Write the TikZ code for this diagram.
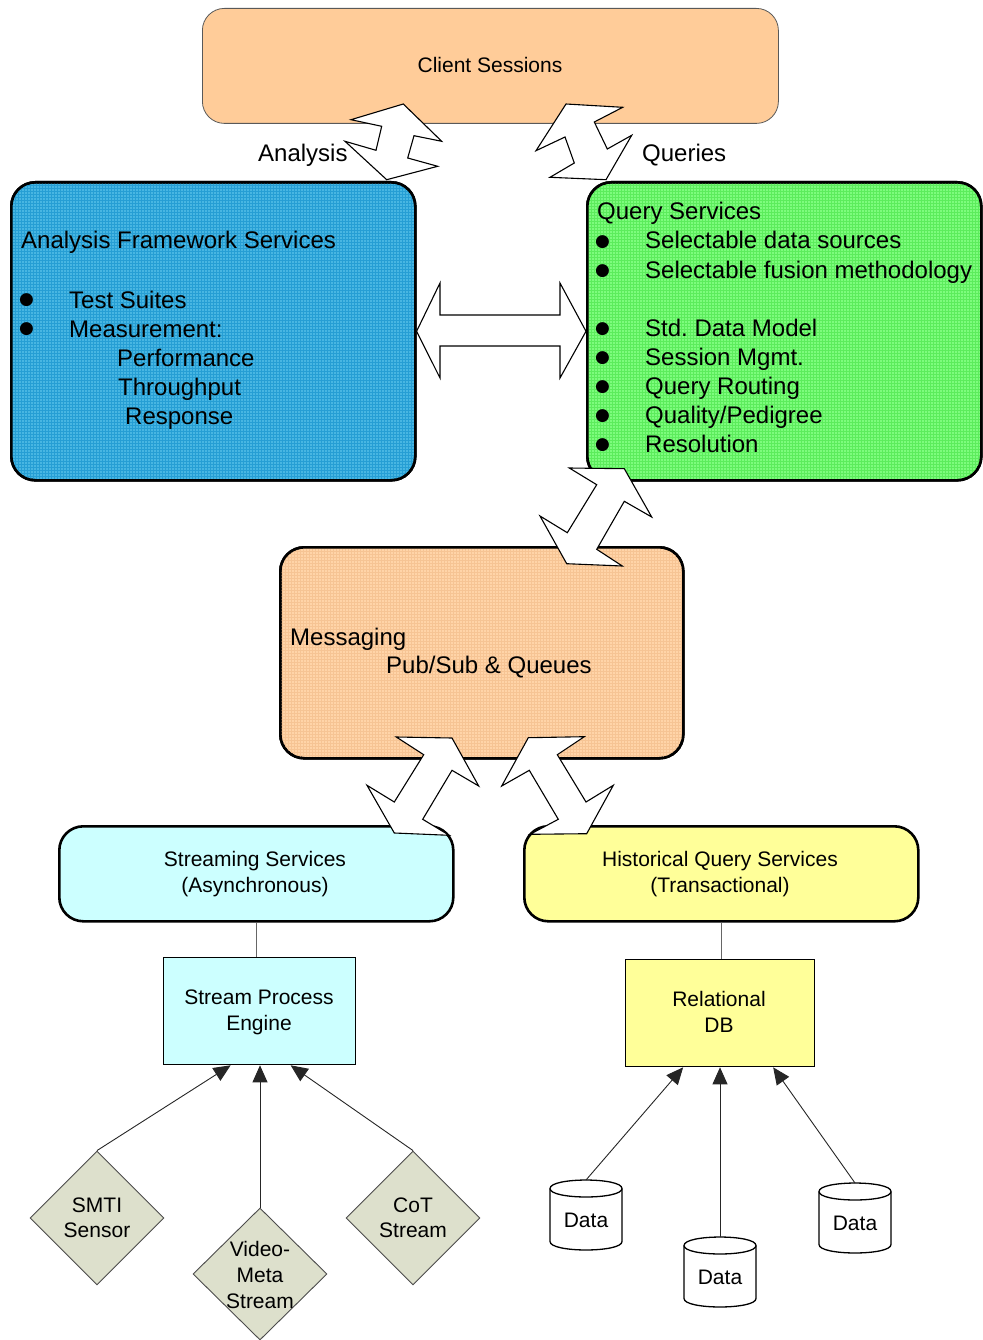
\documentclass[tikz,border=0pt]{standalone}
\usepackage{fontspec}
\setmainfont{Liberation Sans}
\newfontfamily\symfont{DejaVu Sans}
\usetikzlibrary{shapes.geometric,arrows.meta,patterns}

\definecolor{peach}{RGB}{255,204,153}
\definecolor{peachbase}{RGB}{255,212,168}
\definecolor{peachgrid}{RGB}{246,196,148}
\definecolor{afsbase}{RGB}{72,182,226}
\definecolor{afsgrid}{RGB}{38,158,212}
\definecolor{qsbase}{RGB}{125,252,125}
\definecolor{qsgrid}{RGB}{92,236,92}
\definecolor{cyanfill}{RGB}{204,255,255}
\definecolor{yellowfill}{RGB}{255,255,153}
\definecolor{sensorfill}{RGB}{221,224,204}

% storage drum: #1 name, #2 centre x, #3 top y
\newcommand\datadrum[3]{%
  \draw[drum] (#2-36,#3+8.5) -- (#2-36,#3+61.5)
     .. controls (#2-36,#3+72.8) and (#2+36,#3+72.8) .. (#2+36,#3+61.5)
     -- (#2+36,#3+8.5)
     .. controls (#2+36,#3-2.8) and (#2-36,#3-2.8) .. (#2-36,#3+8.5) -- cycle;
  \draw[drum,fill=none] (#2-36,#3+8.5)
     .. controls (#2-36,#3+19.8) and (#2+36,#3+19.8) .. (#2+36,#3+8.5);
  \coordinate (#1top) at (#2,#3);
  \node[small,inner sep=0pt] (#1) at (#2,#3+40) {Data};
}

\begin{document}
\begin{tikzpicture}[x=1pt,y=-1pt,
  big/.style={font=\fontsize{24}{29}\selectfont},
  small/.style={font=\fontsize{21}{26}\selectfont},
  dot/.style={font=\symfont\fontsize{17}{17}\selectfont,inner sep=0pt,anchor=center},
  txt/.style={inner sep=0pt,anchor=base west},
  ctxt/.style={inner sep=0pt,anchor=base},
  svcbox/.style={draw=black,line width=2.6pt,rounded corners=24pt,inner sep=0pt,anchor=north west},
  gridded/.style={fill=#1base,postaction={pattern=grid,pattern color=#1grid},
                  postaction={draw=black,line width=2.6pt}},
  engbox/.style={draw=black,line width=1.3pt,inner sep=0pt,anchor=north west},
  sensor/.style={diamond,draw=black!70,line width=0.9pt,fill=sensorfill,inner sep=0pt,
                 minimum width=134pt,minimum height=134pt},
  drum/.style={draw=black,line width=1.3pt,fill=white},
  blockarrow/.style={draw=black,line width=1.1pt,fill=white,line join=miter},
  link/.style={draw=black!60,line width=1pt},
  feed/.style={draw=black!85,line width=0.9pt,-{Triangle[length=17pt,width=15pt]}},
]
\useasboundingbox (0,0) rectangle (982,1340);

% ---- service boxes ----
\node[svcbox,fill=peach,draw=black!65,line width=0.8pt,rounded corners=22pt,
      minimum width=576pt,minimum height=115pt] (client) at (202,8) {};
\node[svcbox,gridded=afs,minimum width=404pt,minimum height=298pt] (afs) at (10,181) {};
\node[svcbox,gridded=qs,minimum width=394pt,minimum height=298pt] (qs) at (586,181) {};
\node[svcbox,gridded=peach,minimum width=403pt,minimum height=211pt] (msg) at (279,546) {};
\node[svcbox,fill=cyanfill,minimum width=394pt,minimum height=95pt] (stream) at (58,825) {};
\node[svcbox,fill=yellowfill,minimum width=394pt,minimum height=95pt] (hist) at (523,825) {};
\node[engbox,fill=cyanfill,minimum width=192pt,minimum height=107pt] (engine) at (163,957) {};
\node[engbox,fill=yellowfill,minimum width=189pt,minimum height=107pt] (rdb) at (625,959) {};

% ---- box texts ----
\node[small,ctxt] (client-t) at (490,72.5) {Client Sessions};

\node[big,txt] (afs-t) at (21,249) {Analysis Framework Services};
\node[dot] (afs-b1) at (26.5,300.5) {●};
\node[big,txt] (afs-l1) at (69,308) {Test Suites};
\node[dot] (afs-b2) at (26.5,329.5) {●};
\node[big,txt] (afs-l2) at (69,337) {Measurement:};
\node[big,txt] (afs-l3) at (117,366) {Performance};
\node[big,txt] (afs-l4) at (118,395) {Throughput};
\node[big,txt] (afs-l5) at (125,424) {Response};

\node[big,txt] (qs-t) at (597,220) {Query Services};
\foreach \yy/\item [count=\i] in {249/Selectable data sources,
    278/Selectable fusion methodology, 336.5/Std.\ Data Model,
    365/Session Mgmt., 394/Query Routing, 423/Quality\slash Pedigree,
    452/Resolution}{
  \node[dot] (qs-b\i) at (602.5,\yy-7) {●};
  \node[big,txt] (qs-l\i) at (645,\yy) {\item};
}

\node[big,txt] (msg-t1) at (290,645) {Messaging};
\node[big,txt] (msg-t2) at (386,673) {Pub/Sub \& Queues};

\node[small,ctxt] (stream-t1) at (255,866) {Streaming Services};
\node[small,ctxt] (stream-t2) at (255,892) {(Asynchronous)};
\node[small,ctxt] (hist-t1) at (720,866) {Historical Query Services};
\node[small,ctxt] (hist-t2) at (720,892) {(Transactional)};
\node[small,ctxt] (engine-t1) at (259,1004) {Stream Process};
\node[small,ctxt] (engine-t2) at (259,1030) {Engine};
\node[small,ctxt] (rdb-t1) at (719,1006) {Relational};
\node[small,ctxt] (rdb-t2) at (719,1032) {DB};

\node[big,txt] (lbl-analysis) at (258,162) {Analysis};
\node[big,txt] (lbl-queries) at (642,162) {Queries};

% ---- block arrows between services ----
\draw[blockarrow] (351,119.7) -- (403.3,104) -- (441.7,141.3) -- (414,135.7)
  -- (407.7,158) -- (437.7,166.3) -- (386.7,179.7) -- (345,141.3)
  -- (376,150.3) -- (381.7,126.3) -- cycle;
\draw[blockarrow] (566,104) -- (622.7,107.3) -- (594.3,122) -- (607.3,149)
  -- (631.7,135.3) -- (606,179.7) -- (550,177.3) -- (574.3,163)
  -- (565,137) -- (536,150.7) -- cycle;
\draw[blockarrow] (afs.east) -- (440,283) -- (440,315) -- (560,315)
  -- (560,283) -- (qs.west) -- (560,378) -- (560,346) -- (440,346)
  -- (440,378) -- cycle;
\draw[blockarrow] (569.3,468) -- (624.3,468.7) -- (651.7,517) -- (624.3,501.3)
  -- (596.7,549.3) -- (622.3,566) -- (566.7,563.7) -- (540,516)
  -- (567.3,532.7) -- (596.7,484.7) -- cycle;
\draw[blockarrow] (396.3,737) -- (452,738) -- (478.7,786) -- (452,770.3)
  -- (422.7,819.3) -- (449.3,835.3) -- (394.3,833) -- (367,785.3)
  -- (394.3,802) -- (423.7,754.7) -- cycle;
\draw[blockarrow] (528.3,737.7) -- (584.3,736.7) -- (557.3,754.7) -- (586,802)
  -- (613.3,785.3) -- (586.7,833.7) -- (530,834.3) -- (558.3,819.3)
  -- (529.3,770.3) -- (501.7,786) -- cycle;

% ---- links to engines ----
\draw[link] (stream.south) -- (stream.south |- engine.north);
\draw[link] (hist.south) -- (hist.south |- rdb.north);

% ---- stream sources ----
\node[sensor] (smti) at (97,1218) {};
\node[sensor] (cot) at (413,1218) {};
\node[sensor,minimum height=132pt] (video) at (260,1274) {};
\node[small,ctxt] (smti-t1) at (97,1212) {SMTI};
\node[small,ctxt] (smti-t2) at (97,1237.5) {Sensor};
\node[small,ctxt] (cot-t1) at (413,1212) {CoT};
\node[small,ctxt] (cot-t2) at (413,1237.5) {Stream};
\node[small,ctxt] (video-t1) at (260,1256) {Video-};
\node[small,ctxt] (video-t2) at (260,1282) {Meta};
\node[small,ctxt] (video-t3) at (260,1308) {Stream};

\draw[feed] (smti.north) -- ([xshift=-29pt]engine.south);
\draw[feed] (video.north) -- (video.north |- engine.south);
\draw[feed] (cot.north) -- ([xshift=31pt]engine.south);

% ---- stored data ----
\datadrum{d1}{586}{1180}
\datadrum{d2}{720}{1237}
\datadrum{d3}{855}{1183}

\draw[feed] (d1top) -- ([xshift=-37pt]rdb.south);
\draw[feed] (d2top) -- (d2top |- rdb.south);
\draw[feed] (d3top) -- ([xshift=53pt]rdb.south);
\end{tikzpicture}
\end{document}
